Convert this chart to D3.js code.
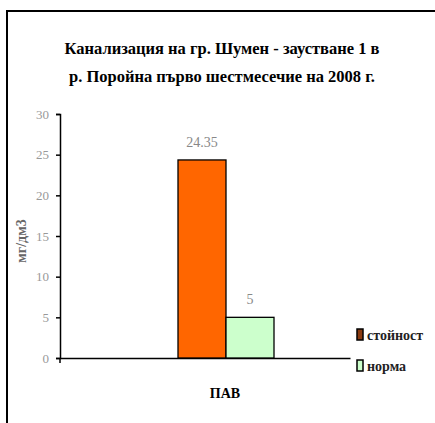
<!DOCTYPE html>
<html><head><meta charset="utf-8">
<script src="https://cdn.jsdelivr.net/npm/d3@7"></script>
<style>body{margin:0;background:#fff}svg{display:block}</style>
</head><body>
<script>
const titleLines = ["Канализация на гр. Шумен - заустване 1 в", "р. Поройна първо шестмесечие на 2008 г."];
const categories = ["ПАВ"];
const seriesNames = ["стойност", "норма"];
const seriesValues = [[24.35], [5]];
const seriesColors = ["#FF6600", "#CCFFCC"];
const yTicks = [0, 5, 10, 15, 20, 25, 30];
const yLabel = "мг/дм3";

const W = 435, H = 423;
const svg = d3.select("body").append("svg").attr("width", W).attr("height", H);
svg.append("rect").attr("width", W).attr("height", H).attr("fill", "#fff");
// frame
svg.append("path").attr("d", `M7,${H} V11 H${W}`).attr("fill", "none").attr("stroke", "#000").attr("stroke-width", 2);

const serif = "'Liberation Serif','Times New Roman',serif";
svg.selectAll("text.title").data(titleLines).join("text")
  .attr("x", 222).attr("y", (d, i) => 54 + i * 28)
  .attr("text-anchor", "middle").attr("font-family", serif)
  .attr("font-weight", "bold").attr("font-size", 16.5).attr("fill", "#000")
  .text(d => d);

const x0 = d3.scaleBand().domain(categories).range([60, 350]);
const x1 = d3.scaleBand().domain(seriesNames).range([0, 96]);
const y = d3.scaleLinear().domain([0, 30]).range([358, 114]);

const yAxis = svg.append("g").attr("transform", "translate(60,0)")
  .call(d3.axisLeft(y).tickValues(yTicks).tickSize(4).tickPadding(7).tickFormat(d3.format("d")));
yAxis.select(".domain").attr("stroke", "#000").attr("stroke-width", 1.5);
yAxis.selectAll(".tick line").attr("stroke", "#000").attr("stroke-width", 1.5);
yAxis.selectAll("text").attr("font-family", serif).attr("font-size", 13).attr("fill", "#999");

const xAxis = svg.append("g").attr("transform", "translate(0,358)")
  .call(d3.axisBottom(x0).tickSize(0).tickFormat(""));
xAxis.select(".domain").attr("stroke", "#000").attr("stroke-width", 1.5);
svg.append("line").attr("x1", 60).attr("x2", 60).attr("y1", 358).attr("y2", 363).attr("stroke", "#000").attr("stroke-width", 1.5);

svg.selectAll("text.cat").data(categories).join("text")
  .attr("x", d => x0(d) + x0.bandwidth() / 2 + 20).attr("y", 398)
  .attr("text-anchor", "middle").attr("font-family", serif).attr("font-weight", "bold")
  .attr("font-size", 14).text(d => d);

const groupOffset = 178 - 60 - (x0.bandwidth() - 96) / 2;
const g = svg.append("g").attr("transform", `translate(${groupOffset},0)`);
seriesNames.forEach((s, si) => {
  categories.forEach((c, ci) => {
    const v = seriesValues[si][ci];
    const bx = x0(c) + (x0.bandwidth() - 96) / 2 + x1(s);
    g.append("rect").attr("x", bx).attr("y", y(v)).attr("width", x1.bandwidth()).attr("height", y(0) - y(v))
      .attr("fill", seriesColors[si]).attr("stroke", "#000").attr("stroke-width", 1.3);
    g.append("text").attr("x", bx + x1.bandwidth() / 2).attr("y", y(v) - 13)
      .attr("text-anchor", "middle").attr("font-family", serif).attr("font-size", 14)
      .attr("fill", "#888").text(v);
  });
});

svg.append("text").attr("transform", "translate(26,241) rotate(-90)")
  .attr("text-anchor", "middle").attr("font-family", serif).attr("font-weight", "bold")
  .attr("font-size", 14).attr("fill", "#666").text(yLabel);

const leg = svg.append("g");
seriesNames.forEach((s, i) => {
  leg.append("rect").attr("x", 357).attr("y", 329 + i * 31).attr("width", 6).attr("height", 11)
    .attr("fill", i === 0 ? "#8a3a10" : seriesColors[i]).attr("stroke", "#000").attr("stroke-width", 1.5);
  leg.append("text").attr("x", 367).attr("y", 340 + i * 31).attr("font-family", serif)
    .attr("font-weight", "bold").attr("font-size", 14).attr("fill", "#222").text(s);
});
</script>
</body></html>
